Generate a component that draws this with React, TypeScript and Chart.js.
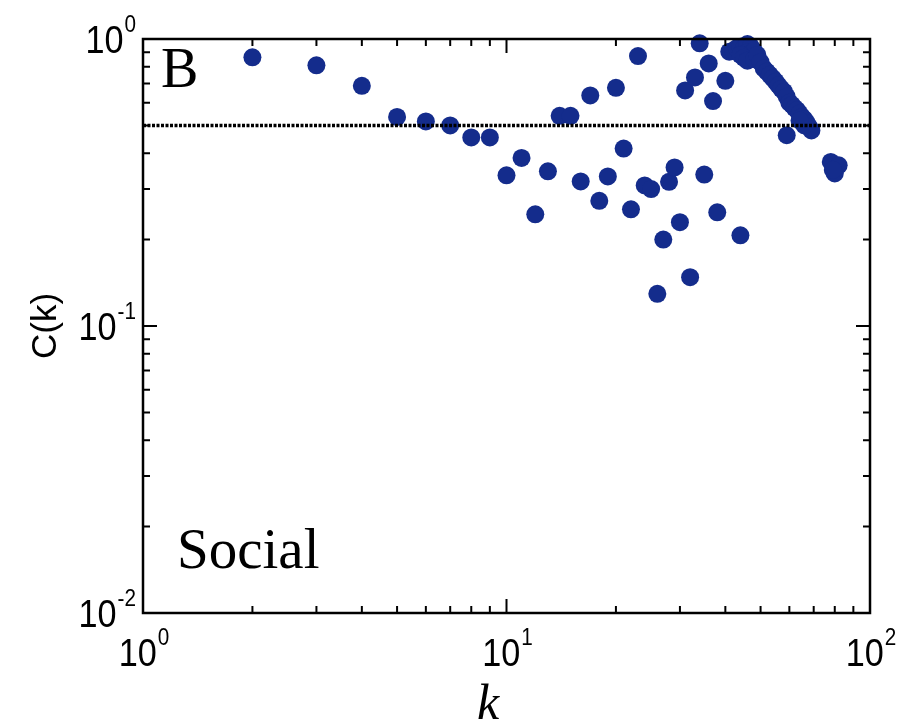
import React, { useEffect, useRef } from "react";
import { Chart, registerables } from "chart.js";

Chart.register(...registerables);

// Degree k of each node and its clustering coefficient C(k)
const degreeK: number[] = [
  2, 3, 4, 5, 6, 7, 8, 9, 10, 11, 12, 13, 14, 15, 16, 17, 18, 19, 20, 21, 22, 23, 24, 25, 26, 27, 28, 29, 30,
  31, 32, 33, 34, 35, 36, 37, 38, 40, 41, 44,
  42, 43, 44, 45, 46, 47, 46, 47, 48, 44, 45, 46, 48, 49, 50,
  51, 52, 53, 54, 55, 56, 57, 58, 59, 60, 61, 62, 63, 64, 65, 66, 67, 68, 69, 66, 64, 59,
  78, 82, 80, 79,
];
const clusteringC: number[] = [
  0.863, 0.81, 0.687, 0.535, 0.516, 0.5, 0.454, 0.454, 0.335, 0.385, 0.245, 0.346, 0.54, 0.54, 0.319, 0.636,
  0.273, 0.332, 0.676, 0.415, 0.255, 0.872, 0.309, 0.3, 0.1295, 0.2, 0.318, 0.357, 0.23,
  0.662, 0.148, 0.735, 0.966, 0.337, 0.822, 0.608, 0.249, 0.715, 0.903, 0.207,
  0.91, 0.93, 0.94, 0.93, 0.96, 0.94, 0.9, 0.89, 0.91, 0.88, 0.86, 0.84, 0.85, 0.88, 0.83,
  0.79, 0.77, 0.75, 0.73, 0.71, 0.69, 0.67, 0.655, 0.63, 0.6, 0.59, 0.575, 0.565, 0.55, 0.535, 0.525, 0.51,
  0.494, 0.48, 0.5, 0.52, 0.462,
  0.373, 0.363, 0.34, 0.35,
];

const xTickExponents: number[] = [0, 1, 2];
const yTickExponents: number[] = [0, -1, -2];
const referenceLevel = 0.5;
const panelLabel = "B";
const networkLabel = "Social";
const xTitle = "k";
const yTitle = "C(k)";

const SANS = "'Liberation Sans', Arial, Helvetica, sans-serif";
const SERIF = "'Liberation Serif', 'Times New Roman', serif";

function expText(e: number): string {
  return e < 0 ? "-" + String(-e) : String(e);
}

function drawPow(
  ctx: CanvasRenderingContext2D,
  e: number,
  x: number,
  baseline: number,
  align: "center" | "right"
) {
  const sx = 0.9;
  const bigSize = 38;
  const smallSize = 23;
  ctx.font = `${bigSize}px ${SANS}`;
  const wb = ctx.measureText("10").width * sx;
  ctx.font = `${smallSize}px ${SANS}`;
  const es = expText(e);
  const we = ctx.measureText(es).width * sx;
  const gap = 1;
  const total = wb + gap + we;
  const left = align === "center" ? x - total / 2 : x - total;
  ctx.textAlign = "left";
  ctx.textBaseline = "alphabetic";
  ctx.save();
  ctx.translate(left, baseline);
  ctx.scale(sx, 1);
  ctx.font = `${bigSize}px ${SANS}`;
  ctx.fillText("10", 0, 0);
  ctx.restore();
  ctx.save();
  ctx.translate(left + wb + gap, baseline - 21);
  ctx.scale(sx, 1);
  ctx.font = `${smallSize}px ${SANS}`;
  ctx.fillText(es, 0, 0);
  ctx.restore();
}

const framePlugin = {
  id: "frameAndLabels",
  afterDatasetsDraw(chart: any) {
    const { ctx, chartArea: a, scales } = chart;
    const xs = scales.x;
    const ys = scales.y;
    ctx.save();
    ctx.strokeStyle = "#000";
    ctx.fillStyle = "#000";

    // reference dotted line
    const yy = ys.getPixelForValue(referenceLevel);
    ctx.setLineDash([3, 1.5]);
    ctx.lineWidth = 3.5;
    ctx.beginPath();
    ctx.moveTo(a.left, yy);
    ctx.lineTo(a.right, yy);
    ctx.stroke();
    ctx.setLineDash([]);

    // inward ticks
    ctx.lineWidth = 2;
    const minorLen = 7;
    const majorLen = 14;
    for (let i = 0; i < xTickExponents.length - 1; i++) {
      const base = Math.pow(10, xTickExponents[i]);
      for (let m = 1; m <= 9; m++) {
        const v = m * base;
        if (m === 1 && i === 0) continue;
        const px = xs.getPixelForValue(v);
        const len = m === 1 ? majorLen : minorLen;
        ctx.beginPath();
        ctx.moveTo(px, a.bottom);
        ctx.lineTo(px, a.bottom - len);
        ctx.moveTo(px, a.top);
        ctx.lineTo(px, a.top + len);
        ctx.stroke();
      }
    }
    const ySorted = [...yTickExponents].sort((p, q) => p - q);
    for (let i = 0; i < ySorted.length - 1; i++) {
      const base = Math.pow(10, ySorted[i]);
      for (let m = 1; m <= 9; m++) {
        if (m === 1 && i === 0) continue;
        const v = m * base;
        const py = ys.getPixelForValue(v);
        const len = m === 1 ? majorLen : minorLen;
        ctx.beginPath();
        ctx.moveTo(a.left, py);
        ctx.lineTo(a.left + len, py);
        ctx.moveTo(a.right, py);
        ctx.lineTo(a.right - len, py);
        ctx.stroke();
      }
    }

    // frame
    ctx.lineWidth = 2.5;
    ctx.strokeRect(a.left, a.top, a.right - a.left, a.bottom - a.top);
    ctx.restore();
  },
  afterDraw(chart: any) {
    const { ctx, chartArea: a, scales } = chart;
    const xs = scales.x;
    const ys = scales.y;
    ctx.save();
    ctx.fillStyle = "#000";

    // tick labels
    for (const e of xTickExponents) {
      const px = xs.getPixelForValue(Math.pow(10, e));
      drawPow(ctx, e, px + 1, a.bottom + 53, "center");
    }
    for (const e of yTickExponents) {
      const py = ys.getPixelForValue(Math.pow(10, e));
      drawPow(ctx, e, a.left - 7, py + 14, "right");
    }

    // axis titles
    ctx.save();
    ctx.translate(56, (a.top + a.bottom) / 2);
    ctx.rotate(-Math.PI / 2);
    ctx.font = `35px ${SANS}`;
    ctx.textAlign = "center";
    ctx.textBaseline = "alphabetic";
    ctx.fillText(yTitle, 0, 0);
    ctx.restore();

    ctx.font = `italic 50px ${SERIF}`;
    ctx.textAlign = "center";
    ctx.textBaseline = "alphabetic";
    ctx.fillText(xTitle, 488, 719);

    // panel texts
    ctx.textAlign = "left";
    ctx.font = `56px ${SERIF}`;
    ctx.fillText(panelLabel, a.left + 18, a.top + 48);
    ctx.font = `57px ${SERIF}`;
    ctx.fillText(networkLabel, a.left + 34, 568);
    ctx.restore();
  },
};

export default function App() {
  const canvasRef = useRef<HTMLCanvasElement | null>(null);

  useEffect(() => {
    const canvas = canvasRef.current;
    if (!canvas) return;
    const points = degreeK.map((k, i) => ({ x: k, y: clusteringC[i] }));
    const chart = new Chart(canvas, {
      type: "scatter",
      data: {
        datasets: [
          {
            data: points,
            backgroundColor: "rgb(20, 44, 140)",
            borderWidth: 0,
            pointRadius: 9,
            pointHoverRadius: 9,
            clip: false as any,
          },
        ],
      },
      options: {
        animation: false,
        responsive: false,
        devicePixelRatio: 1,
        layout: { padding: { left: 143, top: 39, right: 39, bottom: 110 } },
        plugins: {
          legend: { display: false },
          tooltip: { enabled: false },
        },
        scales: {
          x: { type: "logarithmic", min: 1, max: 100, display: false },
          y: { type: "logarithmic", min: 0.01, max: 1, display: false },
        },
      },
      plugins: [framePlugin],
    });
    return () => chart.destroy();
  }, []);

  return (
    <div style={{ position: "absolute", left: 0, top: 0, width: 909, height: 723, background: "#fff" }}>
      <canvas ref={canvasRef} width={909} height={723} style={{ display: "block" }} />
    </div>
  );
}
